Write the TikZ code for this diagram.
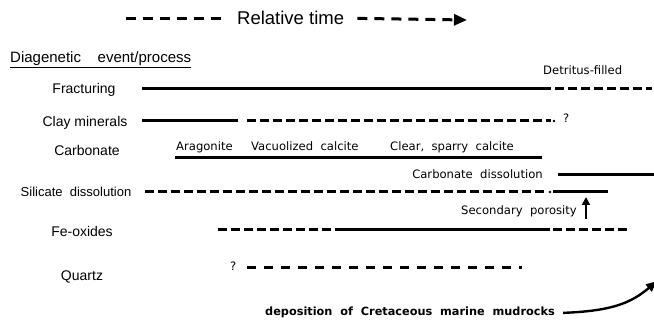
\documentclass[tikz,border=0pt]{standalone}
\usepackage{fontspec}
\setmainfont{Liberation Sans}
\newfontfamily\genfont{DejaVu Sans}
\usetikzlibrary{arrows.meta, positioning}

\begin{document}
\begin{tikzpicture}[x=1pt, y=-1pt,
    bar/.style={line width=3pt},
    dbar/.style={bar, dash pattern=on 9pt off 4pt},
    qbar/.style={bar, dash pattern=on 9pt off 8pt},
    rowlabel/.style={font=\fontsize{14}{16}\selectfont, inner sep=0pt, anchor=base},
    note/.style={font=\genfont\fontsize{11.6}{13}\selectfont, inner sep=0pt, anchor=base west}]
  \useasboundingbox (0,0) rectangle (654,320);

  \node[font=\fontsize{18.5}{20}\selectfont, inner sep=0pt, anchor=base west] (reltime) at (237,25) {Relative time};
  \draw[bar, dash pattern=on 10pt off 7pt] ([xshift=-16pt]reltime.west) -- ++(-102,0);
  \draw[bar, dash pattern=on 10pt off 7pt, -{Triangle[length=13pt,width=11pt]}] ([xshift=13pt]reltime.east) -- (467,20);

  \node[font=\fontsize{15}{17}\selectfont, inner sep=0pt, anchor=base west] (header) at (10,63)
    {\underline{Diagenetic\ \ \ \ event/process}};

  \node[rowlabel] (frac) at (84,94) {Fracturing};
  \node[rowlabel] (clay) at (85,127) {Clay minerals};
  \node[rowlabel] (carb) at (87,156) {Carbonate};
  \node[rowlabel, font=\fontsize{13}{15}\selectfont] (sil) at (76,197) {Silicate\ \ dissolution};
  \node[rowlabel] (feox) at (82,237) {Fe-oxides};
  \node[rowlabel] (qtz) at (82,281) {Quartz};

  \node[note] (detritus) at (543,75) {Detritus-filled};
  \draw[bar] (142,89) -- (542,89);
  \draw[dbar] (542,89) -- (652,89);

  \draw[bar] (142,121) -- (238,121);
  \draw[dbar] (247,121) -- (551,121);
  \fill (554,121) circle (1.3pt);
  \node[note] (clayq) at (563,123) {?};

  \node[note] (arag) at (176,151) {Aragonite};
  \node[note] (vacuo) at (251,151) {Vacuolized\ \ calcite};
  \node[note] (sparry) at (390,151) {Clear,\ \ sparry\ \ calcite};
  \draw[bar] (175,158) -- (542,158);

  \node[note, anchor=base east] (carbdiss) at (543,179) {Carbonate\ \ dissolution};
  \draw[bar] (558,175) -- (654,175);

  \draw[dbar] (145,192) -- (546,192);
  \fill (550,192) circle (1.3pt);
  \draw[bar] (553,192) -- (608,192);

  \node[note, anchor=base east] (secpor) at (577,215) {Secondary\ \ porosity};
  \draw[line width=1.8pt, -{Triangle[length=8pt,width=8pt]}] (586,219) -- (586,197);

  \draw[dbar] (218,230) -- (340,230);
  \draw[bar] (340,230) -- (550,230);
  \draw[dbar] (553,230) -- (630,230);

  \node[note] (qtzq) at (230,271) {?};
  \draw[qbar] (247,268) -- (522,268);

  \node[note, font=\genfont\bfseries\fontsize{11.3}{13}\selectfont] (depo) at (265,316)
    {deposition\ \ of\ \ Cretaceous\ \ marine\ \ mudrocks};
  \draw[line width=2.4pt, -{Triangle[length=11pt,width=9pt]}] ([xshift=8pt]depo.east) .. controls (610,311) and (630,304) .. (657,281);
\end{tikzpicture}
\end{document}
